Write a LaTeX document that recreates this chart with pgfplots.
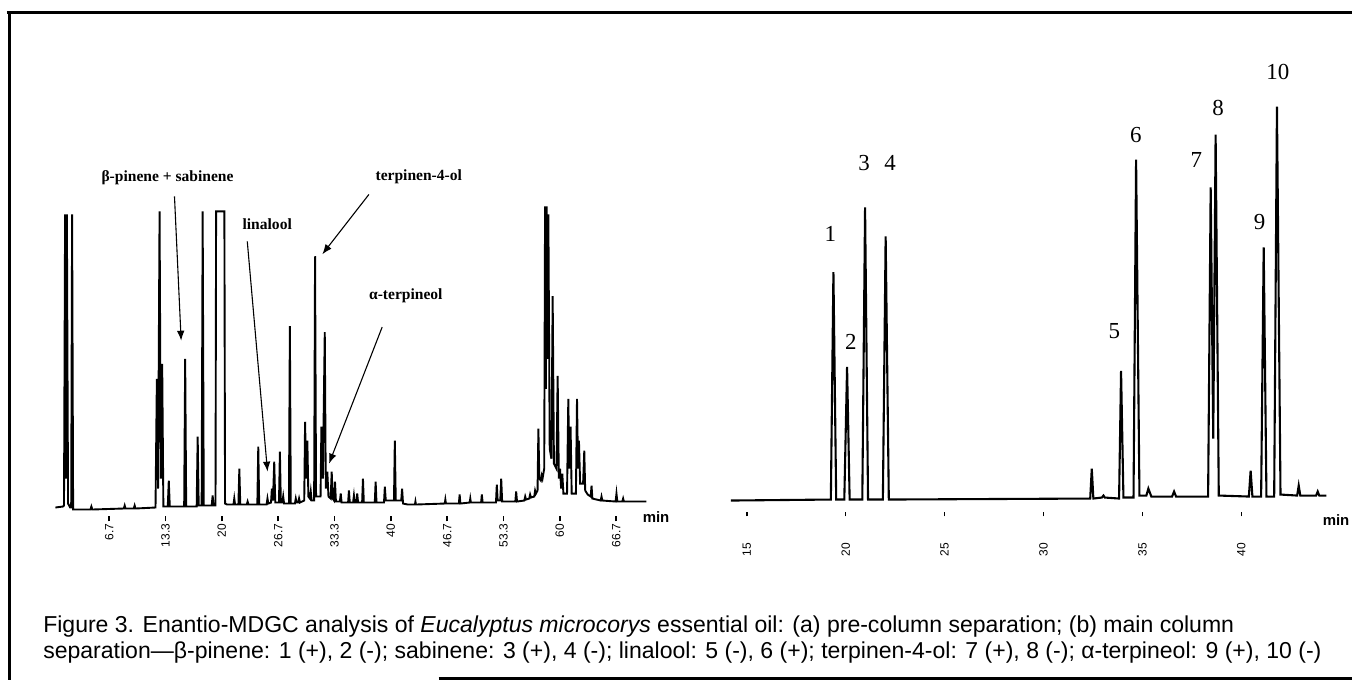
\documentclass[border=0pt]{standalone}
\usepackage{fontspec}
\setmainfont{Liberation Sans}
\newfontfamily\seriffont{Liberation Serif}
\usepackage{pgfplots}
\pgfplotsset{compat=1.18}
\usetikzlibrary{arrows.meta}

\pgfplotsset{chrom/.style={
  scale only axis, clip=false,
  axis line style={draw=none},
  ytick=\empty, xtick pos=left,
  tick align=outside, major tick length=2.5pt,
  tick style={black, line width=0.8pt},
  xticklabel style={rotate=90, anchor=east, font=\fontsize{6}{6}\selectfont, inner sep=1pt},
}}

\begin{document}
\begin{tikzpicture}
% page in reference pixels: 1 px = 0.5pt, y downwards
\begin{scope}[x=0.5pt,y=-0.5pt]
\path[use as bounding box] (0,0) rectangle (1356,682);
\coordinate (LA) at (53,518);
\coordinate (RA) at (733.1,513);
% frame
\draw[line width=1.6pt] (7,12.5) -- (1356,12.5);
\draw[line width=1.6pt] (9.5,12) -- (9.5,682);
\draw[line width=1.6pt] (440,680.5) -- (1356,680.5);
\end{scope}

% (a) pre-column
\begin{axis}[chrom, at={(LA)}, anchor=south west,
  width=298.75pt, height=159pt,
  xmin=0, xmax=70.5, ymin=-8, ymax=310,
  xtick={6.667,13.333,20,26.667,33.333,40,46.667,53.333,60,66.667},
  xticklabels={6.7,13.3,20,26.7,33.3,40,46.7,53.3,60,66.7},
  xticklabel shift=0pt]
\addplot[black, line width=0.95pt, sharp plot, mark=none] coordinates {
(0.3,1) (1.2,2) (1.32,3) (1.45,295) (1.55,30) (1.66,295) (1.80,5) (2.05,1)
(2.17,1) (2.28,295) (2.40,-1) (3.0,-1) (4.45,-1) (4.56,2) (4.67,-1)
(8.4,0) (8.5,3) (8.6,0) (9.58,0) (9.68,3) (9.78,0) (12.15,1)
(12.31,130) (12.45,20) (12.63,298) (12.78,30) (12.94,145) (13.08,2)
(13.6,2) (13.72,28) (13.84,2) (15.54,2) (15.66,150) (15.78,2)
(17.02,2) (17.14,72) (17.26,3) (17.61,3) (17.73,298) (17.86,3)
(18.8,3) (18.91,13) (19.02,3) (19.25,3) (19.32,298) (20.3,298) (20.38,5)
(20.6,4) (21.38,4) (21.47,10) (21.56,4) (21.96,4) (22.07,40) (22.18,4)
(22.95,4) (23.05,7) (23.15,4) (24.2,4) (24.31,62) (24.42,4)
(25.3,4) (25.4,10) (25.5,5) (25.82,6) (25.92,20) (26.05,8) (26.2,47) (26.32,6)
(26.76,6) (26.87,57) (26.98,6) (27.16,6) (27.26,12) (27.36,5)
(27.94,5) (28.05,183) (28.16,5) (28.65,5) (28.75,10) (28.85,6)
(29.04,6) (29.14,10) (29.24,6) (29.75,8) (29.85,87) (29.98,30) (30.12,68) (30.24,12)
(30.42,10) (30.52,17) (30.62,8) (30.92,8) (31.03,253) (31.15,12)
(31.68,12) (31.78,82) (31.95,30) (32.18,177) (32.3,20) (32.48,37) (32.62,12)
(32.88,10) (33.0,37) (33.12,10) (33.28,8) (33.39,27) (33.5,7)
(33.97,7) (34.07,15) (34.17,6) (34.94,6) (35.04,18) (35.14,6)
(35.53,6) (35.63,13) (35.72,6) (35.92,6) (36.02,15) (36.12,6)
(36.6,6) (36.7,30) (36.8,6) (38.1,6) (38.2,27) (38.3,6)
(39.19,6) (39.29,22) (39.4,8) (40.37,8) (40.47,68) (40.58,8)
(41.23,8) (41.33,20) (41.44,5) (42.0,4) (42.85,4) (42.91,7) (42.97,4)
(46.38,5) (46.45,9) (46.52,5) (48.05,5) (48.14,14) (48.23,5)
(49.33,6) (49.4,10) (49.47,6) (50.68,6) (50.77,14) (50.86,6)
(52.44,6) (52.54,24) (52.64,8) (52.95,8) (53.06,30) (53.17,7)
(54.73,7) (54.83,17) (54.93,7) (55.8,8) (55.9,12) (56.0,9)
(56.38,10) (56.48,14) (56.58,11) (56.97,12) (57.07,18) (57.17,15)
(57.36,18) (57.46,80) (57.57,30) (57.75,28) (57.85,33) (57.95,30) (58.15,40)
(58.25,303) (58.34,120) (58.44,303) (58.54,150) (58.64,295) (58.8,60)
(59.0,50) (59.15,213) (59.3,45) (59.6,40) (59.74,133) (59.88,30)
(60.02,40) (60.15,20) (60.29,35) (60.42,15) (60.85,15) (61.0,110) (61.12,40)
(61.27,82) (61.4,15) (61.9,15) (62.03,110) (62.15,40) (62.26,68) (62.4,25)
(62.75,25) (62.89,58) (63.0,18) (63.3,14) (63.65,12) (63.75,23) (63.85,10)
(64.83,8) (64.93,12) (65.03,8) (66.6,7) (66.7,15) (66.8,7)
(67.4,7) (67.49,10) (67.58,7) (70.24,7)
};
\end{axis}

% (b) main column
\begin{axis}[chrom, at={(RA)}, anchor=south west,
  width=298.6pt, height=206.5pt,
  xmin=14.2, xmax=44.3, ymin=-13, ymax=400,
  xtick={15,20,25,30,35,40},
  xticklabels={15,20,25,30,35,40},
  xticklabel shift=12pt]
\addplot[black, line width=1.05pt, sharp plot, mark=none] coordinates {
(14.2,-2) (19.25,-1) (19.38,227) (19.52,-1) (19.93,-1) (20.07,132) (20.2,-1)
(20.84,-1) (20.98,292) (21.13,-1) (21.88,-1) (22.02,263) (22.18,-1)
(32.36,0) (32.44,30) (32.52,0) (32.95,1) (33.03,3) (33.1,1)
(33.82,0) (33.92,128) (34.04,1) (34.55,1) (34.68,340) (34.85,3)
(35.2,3) (35.3,10) (35.45,2) (36.5,2) (36.6,7) (36.7,2)
(38.32,2) (38.45,312) (38.58,60) (38.7,365) (38.86,3)
(40.38,2) (40.47,28) (40.56,2) (41.0,2) (41.13,252) (41.27,2)
(41.66,2) (41.8,393) (41.98,4) (42.82,3) (42.9,13) (42.98,3)
(43.78,3) (43.86,7) (43.94,3) (44.3,3)
};
\begin{scope}[every node/.style={font=\seriffont\fontsize{11.5}{11.5}\selectfont}]
\node at (axis cs:19.22,265) {1};
\node at (axis cs:20.26,157) {2};
\node at (axis cs:20.93,337) {3};
\node at (axis cs:22.24,337) {4};
\node at (axis cs:33.58,168) {5};
\node at (axis cs:34.67,365) {6};
\node at (axis cs:37.73,340) {7};
\node at (axis cs:38.83,392) {8};
\node at (axis cs:40.92,277) {9};
\node at (axis cs:41.85,428) {10};
\end{scope}
\end{axis}

\begin{scope}[x=0.5pt,y=-0.5pt]
% annotations of (a)
\begin{scope}[every node/.style={font=\seriffont\bfseries\fontsize{7.8}{8}\selectfont}]
\node at (168,178) {β-pinene + sabinene};
\node at (268,225) {linalool};
\node at (420,177) {terpinen-4-ol};
\node at (407,297) {α-terpineol};
\end{scope}
\begin{scope}[line width=0.55pt, -{Latex[length=5pt,width=3.8pt]}]
\draw (175,197) -- (181.7,341.7);
\draw (248,242) -- (268.3,473);
\draw (370,195) -- (323.3,255);
\draw (383.3,328) -- (330,465);
\end{scope}

\node[font=\bfseries\fontsize{7.5}{7.5}\selectfont] at (658,519) {min};
\node[font=\bfseries\fontsize{7.5}{7.5}\selectfont] at (1340,522) {min};

% caption
\begin{scope}[every node/.style={anchor=base west, inner sep=0pt, font=\fontsize{11.55}{13}\selectfont}]
\node at (43,634) {Figure 3. Enantio-MDGC analysis of \textit{Eucalyptus microcorys} essential oil: (a) pre-column separation; (b) main column};
\node at (43,660) {separation—β-pinene: 1 (+), 2 (-); sabinene: 3 (+), 4 (-); linalool: 5 (-), 6 (+); terpinen-4-ol: 7 (+), 8 (-); α-terpineol: 9 (+), 10 (-)};
\end{scope}
\end{scope}
\end{tikzpicture}
\end{document}
